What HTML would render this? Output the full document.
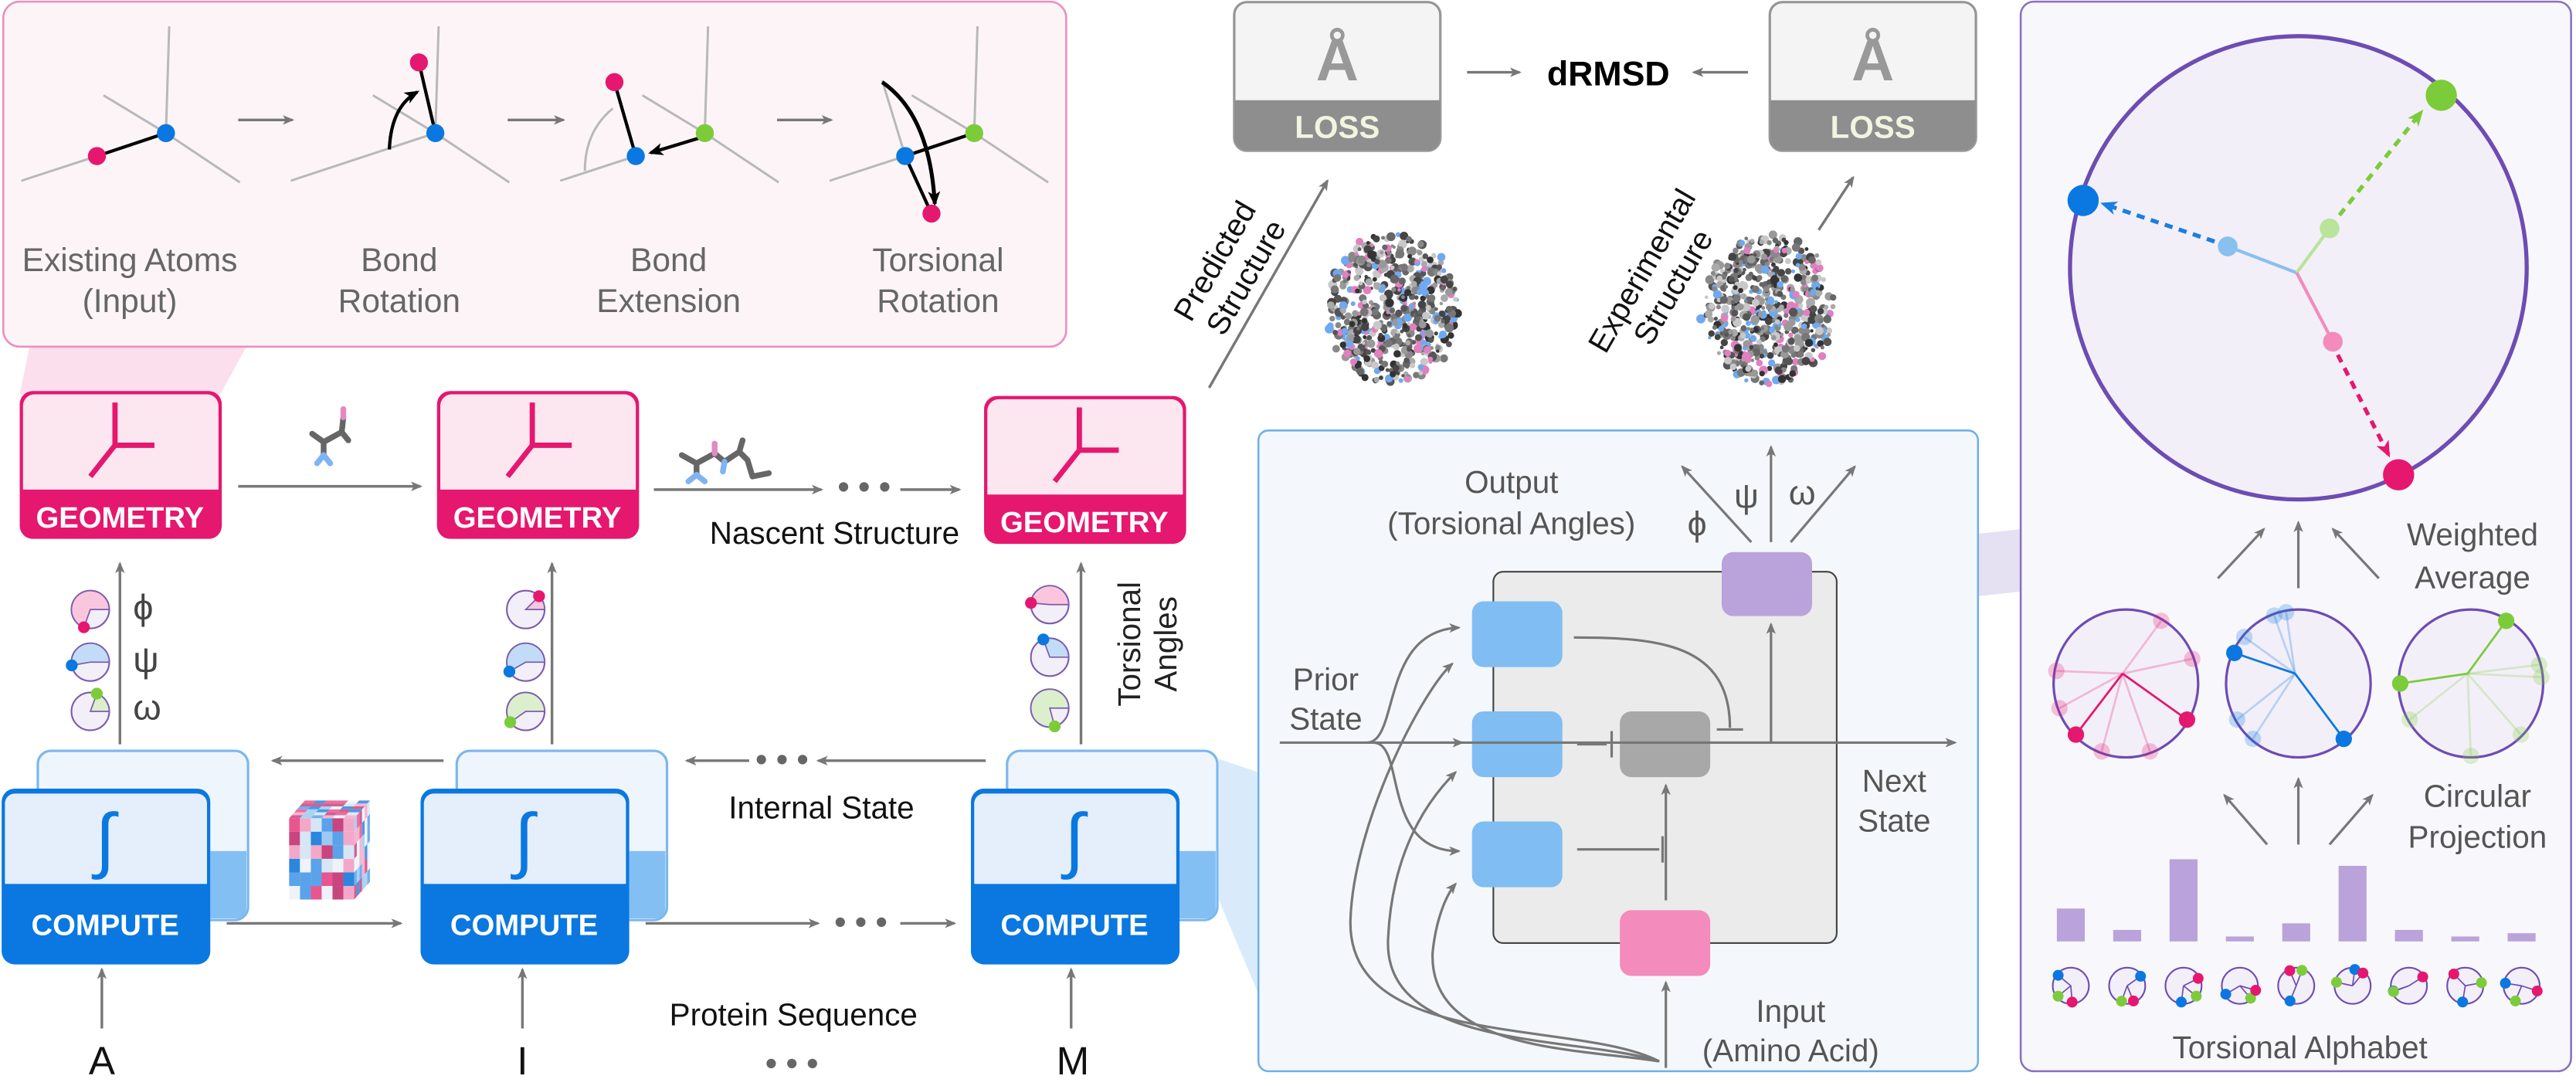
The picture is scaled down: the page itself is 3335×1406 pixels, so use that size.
<!DOCTYPE html>
<html><head><meta charset="utf-8"><style>
html,body{margin:0;padding:0;background:#fff;width:3335px;height:1406px;overflow:hidden}
svg{display:block}
text{font-family:"Liberation Sans",sans-serif}
</style></head><body>
<svg id="s" width="3335" height="1406" viewBox="0 0 1568 661" preserveAspectRatio="none" xmlns="http://www.w3.org/2000/svg">
<defs>
<marker id="a" viewBox="0 0 12 10" refX="10" refY="5" markerWidth="7" markerHeight="6" orient="auto" markerUnits="userSpaceOnUse"><path d="M0,0 L12,5 L0,10 L3,5z" fill="#777"/></marker>
<marker id="ab" viewBox="0 0 12 10" refX="10" refY="5" markerWidth="9" markerHeight="8" orient="auto" markerUnits="userSpaceOnUse"><path d="M0,0 L12,5 L0,10 L3,5z" fill="#000"/></marker>
<marker id="mb" viewBox="0 0 12 10" refX="10" refY="5" markerWidth="10" markerHeight="9" orient="auto" markerUnits="userSpaceOnUse"><path d="M0,0 L12,5 L0,10 L3,5z" fill="#1a7fe0"/></marker>
<marker id="mg" viewBox="0 0 12 10" refX="10" refY="5" markerWidth="10" markerHeight="9" orient="auto" markerUnits="userSpaceOnUse"><path d="M0,0 L12,5 L0,10 L3,5z" fill="#7ccc3a"/></marker>
<marker id="mp" viewBox="0 0 12 10" refX="10" refY="5" markerWidth="10" markerHeight="9" orient="auto" markerUnits="userSpaceOnUse"><path d="M0,0 L12,5 L0,10 L3,5z" fill="#e5176f"/></marker>
</defs>

<!-- top-left pink panel -->
<polygon points="18,211 150,211 134,240 12,240" fill="#fbdfec"/>
<rect x="2" y="1" width="647" height="210" rx="10" fill="#fdf4f8" stroke="#ec8fbd" stroke-width="1.2"/>
<g stroke="#b8b8b8" stroke-width="1.4" fill="none">
 <path d="M101,81 L103,16 M101,81 L146,111 M101,81 L63,58 M59,95 L13,110"/>
 <path d="M265,81 L267,16 M265,81 L310,111 M265,81 L227,58 M265,81 L177,110"/>
 <path d="M429,81 L431,16 M429,81 L474,111 M429,81 L391,58 M387,95 L341,110"/>
 <path d="M356,104 Q356,80 373,66"/>
 <path d="M593,81 L595,16 M593,81 L638,111 M593,81 L555,58 M551,95 L505,110 M551,95 L537,49"/>
</g>
<g stroke="#000" stroke-width="2" fill="none">
 <path d="M59,95 L101,81"/>
 <path d="M265,81 L255,38"/>
 <path d="M237,91 Q238,65 254,56" marker-end="url(#ab)"/>
 <path d="M374,50 L387,95"/>
 <path d="M429,83 L396,93" marker-end="url(#ab)"/>
 <path d="M551,95 L593,81 M551,95 L567,130"/>
 <path d="M537,50 Q566,70 569,124" stroke-width="2.4" marker-end="url(#ab)"/>
</g>
<circle cx="101" cy="81" r="5.5" fill="#0a78e0"/><circle cx="59" cy="95" r="5.5" fill="#e5176f"/>
<circle cx="265" cy="81" r="5.5" fill="#0a78e0"/><circle cx="255" cy="38" r="5.5" fill="#e5176f"/>
<circle cx="429" cy="81" r="5.5" fill="#7ccc3a"/><circle cx="387" cy="95" r="5.5" fill="#0a78e0"/><circle cx="374" cy="50" r="5.5" fill="#e5176f"/>
<circle cx="593" cy="81" r="5.5" fill="#7ccc3a"/><circle cx="551" cy="95" r="5.5" fill="#0a78e0"/><circle cx="567" cy="130" r="5.5" fill="#e5176f"/>
<g stroke="#777" stroke-width="1.6" marker-end="url(#a)"><line x1="145" y1="73" x2="178" y2="73"/><line x1="309" y1="73" x2="343" y2="73"/><line x1="473" y1="73" x2="506" y2="73"/></g>
<g fill="#666" font-size="20" text-anchor="middle">
 <text x="79" y="165">Existing Atoms</text><text x="79" y="190">(Input)</text>
 <text x="243" y="165">Bond</text><text x="243" y="190">Rotation</text>
 <text x="407" y="165">Bond</text><text x="407" y="190">Extension</text>
 <text x="571" y="165">Torsional</text><text x="571" y="190">Rotation</text>
</g>

<!-- geometry boxes -->
<g id="geo">
 <rect x="12" y="238" width="123" height="90" rx="8" fill="#e5176f"/>
 <path d="M14,298 V247 a7,7 0 0 1 7,-7 H126 a7,7 0 0 1 7,7 V298z" fill="#fce6f0"/>
 <path d="M70,245 V271 M70,271 H94 M70,271 L55,290" stroke="#e5176f" stroke-width="3.2" fill="none"/>
 <text x="73" y="321" font-size="18" font-weight="bold" fill="#fff" text-anchor="middle">GEOMETRY</text>
</g>
<use href="#geo" x="254"/>
<use href="#geo" x="587" y="3"/>
<line x1="145" y1="296" x2="256" y2="296" stroke="#777" stroke-width="1.6" marker-end="url(#a)"/>
<line x1="398" y1="298" x2="500" y2="298" stroke="#777" stroke-width="1.6" marker-end="url(#a)"/>
<text x="526" y="303" font-size="20" fill="#666" text-anchor="middle" font-weight="bold">• • •</text>
<line x1="548" y1="298" x2="584" y2="298" stroke="#777" stroke-width="1.6" marker-end="url(#a)"/>
<text x="508" y="331" font-size="19" fill="#111" text-anchor="middle">Nascent Structure</text>
<!-- molecules -->
<g stroke-linecap="round" stroke-width="3.5" fill="none">
 <path d="M190,264 L197,269 L208,263 L209,254 M208,263 L212,268 M197,269 V277" stroke="#666"/>
 <path d="M209,254 V249" stroke="#e38ac0"/><path d="M197,277 L193,282 M197,277 L201,282" stroke="#7fb4f4"/>
 <path d="M415,277 L424,282 L435,276 L441,281 L450,275 L455,280 L458,290 M450,275 L452,268 M424,282 V289 M458,290 L468,288" stroke="#666"/>
 <path d="M435,276 V270" stroke="#e38ac0"/><path d="M424,289 L419,293 M424,289 L429,293 M441,281 L440,287" stroke="#7fb4f4"/>
</g>

<!-- torsion pie columns -->
<g id="pies"></g>
<g stroke="#777" stroke-width="1.6" marker-end="url(#a)">
 <line x1="73" y1="453" x2="73" y2="343"/>
 <line x1="336" y1="453" x2="336" y2="343"/>
 <line x1="658" y1="453" x2="658" y2="343"/>
</g>
<g font-size="22" fill="#444"><text x="81" y="377">ϕ</text><text x="81" y="409">ψ</text><text x="81" y="438">ω</text></g>
<text transform="translate(694,392) rotate(-90)" font-size="19" fill="#222" text-anchor="middle">Torsional</text>
<text transform="translate(716,392) rotate(-90)" font-size="19" fill="#222" text-anchor="middle">Angles</text>

<!-- LSTM highlight trapezoid -->
<polygon points="742,462 766,470 766,605 742,548" fill="#d9ebfa"/>
<polygon points="1100,336 1231,322 1231,360 1100,374" fill="#e6e0f3"/>

<!-- compute boxes -->
<g id="cmp">
 <rect x="23" y="457" width="128" height="103" rx="8" fill="#eef5fd" stroke="#7ab8ef" stroke-width="1.5"/>
 <path d="M128,518 H150 V553 a6,6 0 0 1 -6,6 H128z" fill="#84bff3"/>
 <rect x="1" y="480" width="127" height="107" rx="8" fill="#0a78e0"/>
 <path d="M3,538 V489 a6,6 0 0 1 6,-6 H120 a6,6 0 0 1 6,6 V538z" fill="#e4effb"/>
 <text x="64" y="526" font-size="44" fill="#0a78e0" text-anchor="middle" font-family="DejaVu Sans">∫</text>
 <text x="64" y="569" font-size="18" font-weight="bold" fill="#fff" text-anchor="middle">COMPUTE</text>
</g>
<use href="#cmp" x="255"/>
<use href="#cmp" x="590"/>
<g stroke="#777" stroke-width="1.6" marker-end="url(#a)">
 <line x1="270" y1="463" x2="166" y2="463"/>
 <line x1="600" y1="463" x2="498" y2="463"/>
 <line x1="456" y1="463" x2="418" y2="463"/>
 <line x1="138" y1="562" x2="244" y2="562"/>
 <line x1="393" y1="562" x2="498" y2="562"/>
 <line x1="548" y1="562" x2="581" y2="562"/>
 <line x1="62" y1="626" x2="62" y2="590"/>
 <line x1="318" y1="626" x2="318" y2="590"/>
 <line x1="652" y1="626" x2="652" y2="590"/>
</g>
<g font-size="20" fill="#666" text-anchor="middle" font-weight="bold"><text x="476" y="469">• • •</text><text x="524" y="568">• • •</text><text x="482" y="654">• • •</text></g>
<text x="500" y="498" font-size="19" fill="#111" text-anchor="middle">Internal State</text>
<text x="483" y="624" font-size="19" fill="#111" text-anchor="middle">Protein Sequence</text>
<g font-size="24" fill="#111" text-anchor="middle"><text x="62" y="654">A</text><text x="318" y="654">I</text><text x="653" y="654">M</text></g>
<g id="cube"></g>

<!-- LOSS -->
<g id="loss">
 <rect x="751" y="1" width="126" height="91" rx="8" fill="#8e8e8e" stroke="#999"/>
 <path d="M752,61 V9 a7,7 0 0 1 7,-7 H869 a7,7 0 0 1 7,7 V61z" fill="#f4f4f4"/>
 <text x="814" y="49" font-size="36" font-weight="bold" fill="#999" text-anchor="middle">Å</text>
 <text x="814" y="84" font-size="19" font-weight="bold" fill="#f2f4e0" text-anchor="middle">LOSS</text>
</g>
<use href="#loss" x="326"/>
<text x="979" y="52" font-size="21" font-weight="bold" fill="#000" text-anchor="middle">dRMSD</text>
<g stroke="#777" stroke-width="1.6" marker-end="url(#a)">
 <line x1="893" y1="44" x2="925" y2="44"/>
 <line x1="1064" y1="44" x2="1031" y2="44"/>
 <line x1="736" y1="236" x2="808" y2="110"/>
 <line x1="1107" y1="140" x2="1128" y2="108"/>
</g>
<text transform="translate(745,162) rotate(-60)" font-size="19" fill="#111" text-anchor="middle">Predicted</text>
<text transform="translate(764,172) rotate(-60)" font-size="19" fill="#111" text-anchor="middle">Structure</text>
<text transform="translate(1005,168) rotate(-60)" font-size="19" fill="#111" text-anchor="middle">Experimental</text>
<text transform="translate(1024,178) rotate(-60)" font-size="19" fill="#111" text-anchor="middle">Structure</text>
<g id="blobs"></g>

<!-- LSTM panel -->
<rect x="766" y="262" width="438" height="390" rx="6" fill="#f4f8fc" stroke="#6fb0e8" stroke-width="1.2"/>
<rect x="909" y="348" width="209" height="226" rx="6" fill="#ebebeb" stroke="#444" stroke-width="1"/>
<g fill="#80bdf2"><rect x="896" y="366" width="55" height="40" rx="7"/><rect x="896" y="433" width="55" height="40" rx="7"/><rect x="896" y="500" width="55" height="40" rx="7"/></g>
<rect x="986" y="433" width="55" height="40" rx="7" fill="#a8a8a8"/>
<rect x="986" y="554" width="55" height="40" rx="7" fill="#f48bbd"/>
<rect x="1048" y="336" width="55" height="39" rx="7" fill="#b9a3da"/>
<g stroke="#777" stroke-width="1.5" fill="none">
 <line x1="779" y1="452" x2="1190" y2="452" marker-end="url(#a)"/>
 <path d="M832,452 C852,452 840,384 888,382" marker-end="url(#a)"/>
 <path d="M836,452 C856,452 840,518 888,518" marker-end="url(#a)"/>
 <line x1="876" y1="452" x2="890" y2="452" marker-end="url(#a)"/>
 <path d="M1010,646 C960,620 820,640 822,560 C824,500 866,420 884,404" marker-end="url(#a)"/>
 <path d="M1010,646 C960,630 840,640 845,570 C848,510 876,480 886,470" marker-end="url(#a)"/>
 <path d="M1010,646 C960,638 870,640 872,580 C874,560 880,545 886,538" marker-end="url(#a)"/>
 <line x1="1014" y1="650" x2="1014" y2="598" marker-end="url(#a)"/>
 <line x1="1014" y1="548" x2="1014" y2="478" marker-end="url(#a)"/>
 <path d="M958,388 C1010,388 1053,392 1053,443"/><path d="M1045,444 H1061"/>
 <path d="M960,453 H978 M981,445 V461"/>
 <path d="M960,517 H1010 M1012,509 V525"/>
 <line x1="1078" y1="452" x2="1078" y2="380" marker-end="url(#a)"/>
 <line x1="1078" y1="330" x2="1078" y2="272" marker-end="url(#a)"/>
 <line x1="1066" y1="330" x2="1024" y2="284" marker-end="url(#a)"/>
 <line x1="1090" y1="330" x2="1129" y2="284" marker-end="url(#a)"/>
</g>
<g font-size="19" fill="#555" text-anchor="middle">
 <text x="920" y="300">Output</text><text x="920" y="325">(Torsional Angles)</text>
 <text x="807" y="420">Prior</text><text x="807" y="444">State</text>
 <text x="1153" y="482">Next</text><text x="1153" y="506">State</text>
 <text x="1090" y="622">Input</text><text x="1090" y="646">(Amino Acid)</text>
 <text x="1033" y="326" font-size="21">ϕ</text><text x="1063" y="309" font-size="21">ψ</text><text x="1097" y="307" font-size="21">ω</text>
</g>

<!-- right panel -->
<rect x="1230" y="1" width="335" height="651" rx="8" fill="#f8f7fb" stroke="#8a70bd" stroke-width="1.2"/>
<ellipse cx="1399" cy="163" rx="139" ry="141" fill="#f3eff9" stroke="#6d4cb3" stroke-width="2.5"/>
<g stroke-width="2" fill="none">
 <line x1="1398" y1="166" x2="1356" y2="150" stroke="#88c0f0"/>
 <line x1="1398" y1="166" x2="1418" y2="139" stroke="#b9e49a"/>
 <line x1="1398" y1="166" x2="1420" y2="208" stroke="#f48bbd"/>
 <line x1="1348" y1="147" x2="1280" y2="124" stroke="#1a7fe0" stroke-dasharray="5,4" stroke-width="2.5" marker-end="url(#mb)"/>
 <line x1="1424" y1="131" x2="1474" y2="68" stroke="#7ccc3a" stroke-dasharray="5,4" stroke-width="2.5" marker-end="url(#mg)"/>
 <line x1="1423" y1="216" x2="1454" y2="277" stroke="#e5176f" stroke-dasharray="5,4" stroke-width="2.5" marker-end="url(#mp)"/>
</g>
<circle cx="1356" cy="150" r="6" fill="#88c0f0"/><circle cx="1418" cy="139" r="6" fill="#b9e49a"/><circle cx="1420" cy="208" r="6" fill="#f48bbd"/>
<circle cx="1268" cy="122" r="9.5" fill="#0a78e0"/><circle cx="1486" cy="58" r="9.5" fill="#7ccc3a"/><circle cx="1460" cy="289" r="9.5" fill="#e5176f"/>
<g stroke="#777" stroke-width="1.5" marker-end="url(#a)">
 <line x1="1350" y1="352" x2="1378" y2="322"/><line x1="1399" y1="358" x2="1399" y2="318"/><line x1="1448" y1="352" x2="1420" y2="322"/>
 <line x1="1380" y1="514" x2="1354" y2="484"/><line x1="1399" y1="514" x2="1399" y2="474"/><line x1="1418" y1="514" x2="1444" y2="484"/>
</g>
<g font-size="19" fill="#555" text-anchor="middle">
 <text x="1505" y="332">Weighted</text><text x="1505" y="358">Average</text>
 <text x="1508" y="491">Circular</text><text x="1508" y="516">Projection</text>
 <text x="1400" y="644">Torsional Alphabet</text>
</g>
<g id="proj"></g>
<g id="alpha"></g>
</svg>
<script>
var NS="http://www.w3.org/2000/svg";
function el(p,t,a){var e=document.createElementNS(NS,t);for(var k in a)e.setAttribute(k,a[k]);p.appendChild(e);return e;}
var seed=7;function r(){seed=(seed*16807)%2147483647;return (seed-1)/2147483646;}
var C={p:"#e5176f",b:"#0a78e0",g:"#7ccc3a"},L={p:"#f9c6dd",b:"#c2dcf7",g:"#dcefcd"};
// pies
var pies=document.getElementById("pies");
function pie(cx,cy,col,ang){var rr=11.5;
 el(pies,"circle",{cx:cx,cy:cy,r:rr,fill:"#f3eff9",stroke:"#7b5cb0","stroke-width":1});
 var a=ang*Math.PI/180,x=cx+rr*Math.cos(a),y=cy-rr*Math.sin(a);
 var large=ang>180?1:0;
 el(pies,"path",{d:"M"+cx+","+cy+" L"+(cx+rr)+","+cy+" A"+rr+","+rr+" 0 "+large+" 0 "+x+","+y+"z",fill:L[col],stroke:"#7b5cb0","stroke-width":0.8});
 el(pies,"circle",{cx:x,cy:y,r:3.6,fill:C[col]});}
pie(55,371,"p",250);pie(55,403,"b",190);pie(55,433,"g",70);
pie(320,371,"p",45);pie(320,403,"b",210);pie(320,433,"g",215);
pie(639,368,"p",175);pie(639,400,"b",110);pie(639,431,"g",285);
// cube
var cube=document.getElementById("cube");var cc=["#e8558f","#2c86e0","#f3a8c9","#9ccaf2","#eef3fa","#5aa2ea","#d7e6f5","#c8457f"];
var N=6,s=6.6,x0=176,y0=498;
for(var i=0;i<N;i++)for(var j=0;j<N;j++){el(cube,"rect",{x:x0+i*s,y:y0+j*s*1.25,width:s,height:s*1.25,fill:cc[Math.floor(r()*cc.length)]});}
for(var j=0;j<N;j++)for(var i=0;i<N;i++){var dx=j*1.6,dy=-j*1.8;var xx=x0+N*s+dx,yy=y0+i*s*1.25+dy;
 el(cube,"polygon",{points:xx+","+yy+" "+(xx+1.6)+","+(yy-1.8)+" "+(xx+1.6)+","+(yy-1.8+s*1.25)+" "+xx+","+(yy+s*1.25),fill:cc[Math.floor(r()*cc.length)],opacity:0.85});}
for(var j=0;j<N;j++)for(var i=0;i<N;i++){var dx=j*1.6,dy=-j*1.8;var xx=x0+i*s+dx,yy=y0+dy;
 el(cube,"polygon",{points:xx+","+yy+" "+(xx+s)+","+yy+" "+(xx+s+1.6)+","+(yy-1.8)+" "+(xx+1.6)+","+(yy-1.8),fill:cc[Math.floor(r()*cc.length)],opacity:0.85});}
// protein blobs
var bl=document.getElementById("blobs");var bc=["#555","#666","#777","#888","#999","#aaa","#e27fbf","#6fa9ef","#c8c8c8","#444","#333"];
function blob(cx,cy){for(var k=0;k<650;k++){var a=r()*6.283,d=Math.sqrt(r());var x=cx+Math.cos(a)*d*38+ (r()-0.5)*8,y=cy+Math.sin(a)*d*46;
 el(bl,"circle",{cx:x,cy:y,r:1+r()*1.8,fill:bc[Math.floor(r()*bc.length)]});}}
blob(847,188);blob(1076,188);
// circular projection circles
var pj=document.getElementById("proj");
function pc(cx,col,angs,strong){el(pj,"ellipse",{cx:cx,cy:416,rx:44,ry:45,fill:"#f3eff9",stroke:"#6d4cb3","stroke-width":1.5});
 var ox=cx-2,oy=410;
 angs.forEach(function(a,i){var t=a*Math.PI/180,x=cx+43*Math.cos(t),y=416-44*Math.sin(t);var op=strong.indexOf(i)>=0?1:0.25;
  el(pj,"line",{x1:ox,y1:oy,x2:x,y2:y,stroke:C[col],"stroke-width":1.3,opacity:op});
  el(pj,"circle",{cx:x,cy:y,r:5,fill:C[col],opacity:op});});}
pc(1294,"p",[60,20,170,200,225,-30,-70,-110],[4,5]);
pc(1399,"b",[110,140,155,-50,-130,-150,100],[2,3]);
pc(1504,"g",[60,15,5,-45,-90,180,-150],[0,5]);
// bars + alphabet
var al=document.getElementById("alpha");var hs=[553,566,523,570,562,527,566,570,568];
var cs=[["b","p","g"],["b","p","g"],["g","b","p"],["b","g","p"],["b","p","g"],["b","g","p"],["p","b","g"],["b","g","p"],["p","g","b"]];
for(var i=0;i<9;i++){var x=1252+i*34.3;el(al,"rect",{x:x,y:hs[i],width:17,height:573-hs[i],fill:"#b9a3da"});
 var cx=x+8.5,cy=600;el(al,"circle",{cx:cx,cy:cy,r:11,fill:"#f3eff9",stroke:"#6d4cb3","stroke-width":1});
 for(var k=0;k<3;k++){var t=r()*6.283;var px=cx+10*Math.cos(t),py=cy+10*Math.sin(t);
  el(al,"line",{x1:cx,y1:cy,x2:px,y2:py,stroke:"#6d4cb3","stroke-width":0.8});el(al,"circle",{cx:px,cy:py,r:3.3,fill:C[cs[i][k]]});}}
</script>
</body></html>
